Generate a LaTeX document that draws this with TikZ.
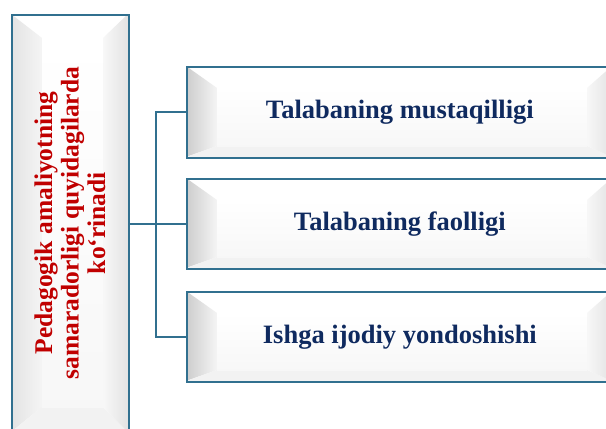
\documentclass[tikz,border=0pt]{standalone}
\usepackage{fontspec}
\setmainfont{Liberation Serif}
\begin{document}
\begin{tikzpicture}[x=1pt,y=-1pt]
\definecolor{bord}{HTML}{31708F}
\definecolor{redtxt}{HTML}{C00000}
\definecolor{navytxt}{HTML}{0F2A5F}
\tikzset{
  boxframe/.style={draw=bord, line width=1.8pt, anchor=north west, inner sep=0pt},
  conn/.style={draw=bord, line width=2pt},
  righttext/.style={font=\bfseries\fontsize{26.5}{30}\selectfont, text=navytxt},
  lefttext/.style={font=\bfseries\fontsize{25.5}{26.5}\selectfont, text=redtxt, align=center, rotate=90}
}
\newcommand\mybevel[7]{% x1 y1 x2 y2 darkness top bottom
  \fill[white] (#1,#2) rectangle (#3,#4);
  \shade[left color=gray!#5, right color=gray!8] (#1,#2) -- (#1+31,#2+#6) -- (#1+31,#4-#7) -- (#1,#4) -- cycle;
  \fill[gray!10] (#1,#4) -- (#1+31,#4-#7) -- (#3-25,#4-#7) -- (#3,#4) -- cycle;
  \shade[left color=gray!6, right color=gray!22] (#3,#2) -- (#3-25,#2+#6) -- (#3-25,#4-#7) -- (#3,#4) -- cycle;
  \shade[top color=white, bottom color=gray!6] (#1+31,#2+#6) rectangle (#3-25,#4-#7);
}
\useasboundingbox (0,0) rectangle (606,429);
\fill[white] (0,0) rectangle (606,429);
\begin{scope}
\clip (0,0) rectangle (606,429);
% left box
\mybevel{11}{14}{128}{432}{22}{24}{25}
\node[boxframe, minimum width=117pt, minimum height=418pt] (L) at (11,14) {};
\node[lefttext] (Lt) at (70,223) {Pedagogik amaliyotning\\samaradorligi quyidagilarda\\ko‘rinadi};
% right boxes
\mybevel{186}{66}{612}{157}{40}{22}{11}
\node[boxframe, minimum width=426pt, minimum height=91pt] (b1) at (186,66) {};
\mybevel{186}{178}{612}{268}{40}{22}{11}
\node[boxframe, minimum width=426pt, minimum height=90pt] (b2) at (186,178) {};
\mybevel{186}{291}{612}{381}{40}{22}{11}
\node[boxframe, minimum width=426pt, minimum height=90pt] (b3) at (186,291) {};
\node[righttext] (t1) at (b1.center) {Talabaning mustaqilligi};
\node[righttext] (t2) at (b2.center) {Talabaning faolligi};
\node[righttext] (t3) at (b3.center) {Ishga ijodiy yondoshishi};
% connectors
\coordinate (bus) at (156,223);
\draw[conn] (L.east) -- (b2.west);
\draw[conn] (b1.west) -| (bus) |- (b3.west);
\end{scope}
\end{tikzpicture}
\end{document}
